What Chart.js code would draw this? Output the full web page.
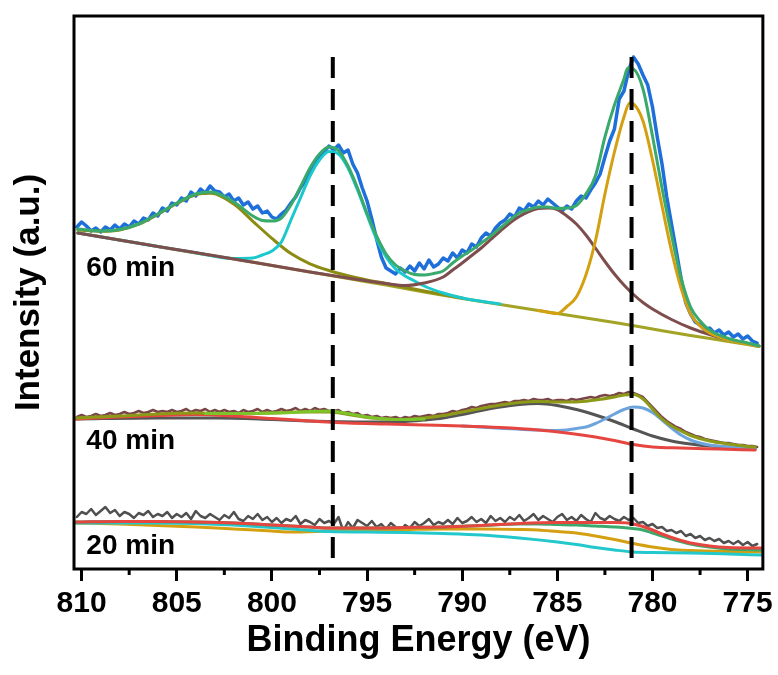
<!DOCTYPE html>
<html><head><meta charset="utf-8">
<script src="https://cdn.jsdelivr.net/npm/chart.js@4.4.1/dist/chart.umd.min.js"></script>
<style>html,body{margin:0;padding:0;background:#fff;}canvas{display:block;}</style>
</head><body>
<canvas id="c" width="778" height="675"></canvas>
<script>
// ---------- axis ----------
const xAxisMin = 774.2, xAxisMax = 810.4;
const yAxisMin = 0, yAxisMax = 553;
const minorTicks = [807.5, 802.5, 797.5, 792.5, 787.5, 782.5, 777.5];
const dashEnergies = [796.8, 781.1];
const dashTop = 512;
const spectrumLabels = ['60 min', '40 min', '20 min'];
const labelE = [809.75, 809.75, 809.75];
const labelI = [301, 128, 23];

// ---------- raw spectra (shared energy grid) ----------
const rawEnergy = [810.25,810,809.75,809.5,809.25,809,808.75,808.5,808.25,808,807.75,807.5,807.25,807,806.75,806.5,806.25,806,
805.75,805.5,805.25,805,804.75,804.5,804.25,804,803.75,803.5,803.25,803,
802.75,802.5,802.25,802,801.75,801.5,801.25,801,800.75,800.5,800.25,800,
799.75,799.5,799.25,799,798.75,798.5,798.25,798,797.75,797.5,797.25,797,
796.75,796.5,796.25,796,795.75,795.5,795.25,795,794.75,794.5,794.25,794,
793.75,793.5,793.25,793,792.75,792.5,792.25,792,791.75,791.5,791.25,791,
790.75,790.5,790.25,790,789.75,789.5,789.25,789,788.75,788.5,788.25,788,
787.75,787.5,787.25,787,786.75,786.5,786.25,786,785.75,785.5,785.25,785,
784.75,784.5,784.25,784,783.75,783.5,783.25,783,782.75,782.5,782.25,782,
781.75,781.5,781.25,781,780.75,780.5,780.25,780,779.75,779.5,779.25,779,
778.75,778.5,778.25,778,777.75,777.5,777.25,777,776.75,776.5,776.25,776,
775.75,775.5,775.25,775,774.75,774.5];

const raw60 = [342,347,343,338,341,337,342,339,344,340,345,342,348,345,351,349,356,353,
361,358,366,364,371,368,377,373,380,376,383,378,
377,372,375,368,371,364,367,360,363,356,358,352,
350,355,359,366,372,381,388,398,404,413,417,423,
419,424,416,419,405,396,381,368,350,330,312,301,
298,295,301,297,303,298,306,300,309,302,305,311,
308,316,311,319,316,325,322,331,336,333,341,346,
349,355,352,361,358,365,362,368,364,370,366,362,
358,363,360,368,373,371,379,386,395,412,428,440,
470,478,499,512,505,494,484,462,432,405,372,345,
318,291,266,255,247,244,239,241,236,239,234,237,
232,235,230,233,228,226];

const raw40 = [152,154,152,153,155,153,154,156,154,155,157,155,156,158,156,157,159,157,
158,157,159,157,158,160,157,159,158,160,157,159,
157,159,157,158,156,159,157,158,160,157,159,157,
158,160,158,159,161,158,160,158,161,159,160,158,
158,159,156,157,155,156,153,154,152,153,151,152,
151,152,150,152,151,153,152,153,154,153,155,155,
156,158,157,159,160,162,161,163,164,165,165,166,
167,166,168,168,169,168,170,169,169,170,168,169,
169,168,170,169,170,171,172,171,173,174,173,174,
176,175,177,176,174,172,167,162,157,152,148,145,
142,140,137,135,133,132,130,129,128,127,126,126,
125,124,124,123,123,122];

const raw20 = [52,57,55,60,54,58,62,56,59,53,57,55,51,56,54,58,52,55,
53,57,51,55,52,56,50,58,53,51,55,52,
49,54,51,57,50,48,53,50,55,49,52,47,
51,46,50,48,53,45,49,47,44,50,46,48,
45,52,38,47,41,49,46,43,48,42,45,40,
46,42,37,44,41,47,43,46,50,44,47,45,
49,45,51,46,48,52,47,50,46,53,48,51,
47,52,49,54,48,51,55,49,53,50,47,52,
55,49,52,48,54,50,47,56,51,49,53,50,
48,52,49,51,46,47,43,45,41,42,38,39,
36,38,33,35,31,33,29,31,28,30,26,28,
25,28,24,27,23,25];

// ---------- fitted curves, 60 min ([energy, intensity]) ----------
const bg60 = [[810.2,336],[808,329],[806,322.5],[804,316],[802,310],[800,303.5],[798,297],[796,290.5],[794,284],[792,277],[790,270.5],[788,264.5],[786,258.5],[784,252.5],[782,246.5],[780,240],[778,233.5],[776,227.5],[774.4,222.5]];
const olive60 = [[810.2,339],[809,337.7],[808,339],[807,344.8],[806,354.6],[805,365.5],[804,374.3],[803.2,375.7],[802,364.9],[801,347.7],[800,330.6],[799,315.4],[798,305.2],[797,298.5],[796,293.3],[795,289],[794,285.5],[792,278],[790,271]];
const cyan60 = [[810.2,336],[806,322.6],[804,316.3],[802,310.5],[801,311],[800.5,314],[800,318],[799.5,327],[799,349],[798.5,371],[798,393],[797.5,409],[797,417.5],[796.5,415],[796,401],[795.5,379],[795,354],[794.5,330],[794,312],[793.5,300],[793,293],[792.5,288],[792,283],[791,276],[790,271],[788,265]];
const brown60 = [[810.2,336],[806,322.6],[802,310],[798,297],[796,291],[794,285.5],[793,283.5],[792,286],[791,292],[790.5,299],[790,306],[789.5,313.5],[789,321],[788.5,329.5],[788,338],[787.5,346],[787,352.5],[786.5,357.5],[786,360.5],[785.5,361],[785,359.5],[784.5,353],[784,345],[783.5,334],[783,321],[782.5,307.5],[782,295],[781.5,284],[781,274.5],[780.5,266.5],[780,260],[779,249.5],[778,241],[777,234.5],[776,229.5],[775,225.5],[774.4,223]];
const gold60 = [[786,258.5],[785.5,256.8],[785,255.5],[784.5,262.5],[784,272],[783.5,294],[783,328],[782.5,375],[782,417],[781.5,452],[781.2,466],[781,465],[780.5,448],[780,409],[779.5,363],[779,318],[778.5,281],[778,255],[777.5,243],[777,236],[776,229],[775,225],[774.4,222.5]];
const env60 = [[810.2,340],[809,338],[808,339.5],[807,345],[806,355],[805,366],[804,375],[803.2,377],[802,367],[801,353],[800.5,348.5],[800,348],[799.5,351],[799,364],[798.5,382],[798,401],[797.5,415],[797,422],[796.5,418.5],[796,403],[795.5,381],[795,355.5],[794.5,333],[794,315],[793.5,304],[793,298],[792.5,294.5],[792,294],[791.5,295.5],[791,298],[790.5,306],[790,313],[789.5,319],[789,326],[788.5,333],[788,341],[787.5,349],[787,356],[786.5,359.5],[786,362],[785.5,362],[785,360.5],[784.5,361],[784,363.5],[783.5,375],[783,393],[782.5,432],[782,464],[781.5,490],[781.3,501],[781,500],[780.5,480],[780,433],[779.5,381],[779,334],[778.5,291],[778,262],[777.5,248],[777,239],[776,230.5],[775,226],[774.4,223]];

// ---------- fitted curves, 40 min ----------
const red40 = [[810.3,150],[808,152],[806,153.5],[804,154.5],[802,153],[800,150.5],[798,148],[796,146],[794,145],[792,144],[790,143],[788,141.5],[786,139],[784.5,136],[783,132],[782,128.5],[781,124.5],[780,122],[778.5,121],[776.5,120],[774.6,119]];
const grey40 = [[810.3,150],[806,151],[803,151],[800,149.5],[798,148],[795,147],[793,147.5],[792,149],[791,151],[790,154.5],[789,158.5],[788,162],[787,164.5],[786,165.5],[785,163.5],[784,159.5],[783,154],[782,147.5],[781,140],[780,133],[779,128],[778,125],[777,123],[775,121],[774.6,120.5]];
const lblue40 = [[790,143],[786,139],[785,138.5],[784.5,139],[784,140.5],[783.5,142],[783,145.5],[782.5,150],[782,155],[781.5,159.5],[781,162],[780.5,161],[780,156.5],[779.5,149],[779,141],[778.5,134],[778,129],[777.5,126],[777,124],[776,122],[775,120.5],[774.6,120]];
const lime40 = [[803.5,155.5],[802,155.5],[800,156],[799,156.5],[798,157.5],[797,158],[796,155.5],[795,152],[794,150],[793,149.5],[792,150]];
const env40 = [[810.3,151],[808,153],[806,155],[804,156],[802,155.5],[800,156],[798.5,157],[797,157],[796,154.5],[795,151.5],[794,150],[793,149.5],[792,151],[791,153.5],[790,157],[789,160.5],[788,164],[787,166.5],[786,167.5],[785,167],[784,167],[783,169],[782,172],[781.5,174],[781,174.5],[780.5,170],[780,160],[779.5,150],[779,143],[778.5,138],[778,133.5],[777,128],[776,125],[775,122.5],[774.6,122]];

// ---------- fitted curves, 20 min ----------
const red20 = [[810.3,47],[808,47.5],[806,47.5],[804,47],[802,46],[800,44],[798,42],[797,41],[795,41],[793,41.5],[791,42],[789,43.5],[787,45.5],[785,46.5],[783.5,46.5],[782,46.5],[781.3,46],[780.5,42.5],[780,39],[779.5,35],[779,31.5],[778.5,28.5],[778,26],[777,23],[776,21.5],[774.3,21]];
const green20 = [[810.3,47],[808,47.5],[806,47.5],[804,47],[802,46],[800,44],[798,42],[797,41],[795,41],[793,41.5],[791,42],[789,43.5],[787,45],[786,45],[785,44.5],[784,44],[783,43],[782,42],[781.3,41],[780.5,39],[780,36],[779,30],[778,25],[777,22],[776,20],[774.3,19]];
const gold20 = [[810.3,46],[808,45],[806,43.5],[804,42],[802,40],[800,38],[799,37],[797,38],[795,39],[793,39.5],[791,40],[789,40],[787,39.5],[786,39],[785,37.5],[784,36],[783,33],[782,29.5],[781,25.5],[780,22],[779,19.5],[778,18.5],[776,17.5],[774.3,17]];
const cyan20 = [[810.3,46],[808,46],[806,46],[804,45.5],[802,44],[800,41.5],[798,38.5],[797,37.5],[795,37],[793,36.5],[791,35.5],[789,34],[787,31],[785,27],[784,24.5],[783,21.5],[782,19],[781,17],[780,16.5],[778,16],[776,15],[774.3,14]];

// ---------- build ----------
const FONT = '"Liberation Sans", Arial, Helvetica, sans-serif';
const pairs = arr => arr.map(p => ({x: p[0], y: p[1]}));
const rawPts = vals => vals.map((v, i) => ({x: rawEnergy[i], y: v}));
function curve(label, data, color, width, order, smooth) {
  return {label, data, borderColor: color, backgroundColor: color, borderWidth: width,
    pointRadius: 0, fill: false, order, tension: 0,
    cubicInterpolationMode: smooth ? 'monotone' : 'default',
    borderJoinStyle: 'round', borderCapStyle: 'round'};
}
const datasets = [];
dashEnergies.forEach((e, i) => {
  const d = curve('dash' + i, [{x: e, y: dashTop}, {x: e, y: yAxisMin}], '#000', 4, 0, false);
  d.borderDash = [21, 11]; d.borderCapStyle = 'butt';
  datasets.push(d);
});
// 60 min
datasets.push(curve('env60', pairs(env60), '#3aa96c', 3, 1, true));
datasets.push(curve('gold60', pairs(gold60), '#d4a012', 3, 2, true));
datasets.push(curve('brown60', pairs(brown60), '#7e4e4e', 3, 3, true));
datasets.push(curve('cyan60', pairs(cyan60), '#1cc8cc', 3, 4, true));
datasets.push(curve('olive60', pairs(olive60), '#8c8c12', 3, 5, true));
datasets.push(curve('bg60', pairs(bg60), '#a3a326', 3, 6, true));
datasets.push(curve('raw60', rawPts(raw60), '#1f6fdb', 3.5, 7, false));
// 40 min
datasets.push(curve('lime40', pairs(lime40), '#7cc42a', 3, 0.5, true));
datasets.push(curve('env40', pairs(env40), '#8c9a18', 3, 1, true));
datasets.push(curve('red40', pairs(red40), '#e64640', 3, 3, true));
datasets.push(curve('lblue40', pairs(lblue40), '#6ea4dc', 3, 4, true));
datasets.push(curve('grey40', pairs(grey40), '#555555', 3, 5, true));
datasets.push(curve('raw40', rawPts(raw40), '#7a4545', 2.5, 8, false));
// 20 min
datasets.push(curve('red20', pairs(red20), '#e64640', 3, 1, true));
datasets.push(curve('green20', pairs(green20), '#3aa96c', 3, 2, true));
datasets.push(curve('cyan20', pairs(cyan20), '#22c8cc', 3, 3, true));
datasets.push(curve('gold20', pairs(gold20), '#d4a012', 3, 4, true));
datasets.push(curve('raw20', rawPts(raw20), '#505050', 2.5, 8, false));

const deco = {
  id: 'deco',
  afterDatasetsDraw(chart) {
    const {ctx, chartArea: a, scales: {x, y}} = chart;
    ctx.save();
    ctx.strokeStyle = '#000';
    ctx.lineWidth = 3;
    minorTicks.forEach(v => {
      const px = x.getPixelForValue(v);
      ctx.beginPath(); ctx.moveTo(px, a.bottom); ctx.lineTo(px, a.bottom + 6); ctx.stroke();
    });
    ctx.strokeRect(a.left, a.top, a.right - a.left, a.bottom - a.top);
    ctx.fillStyle = '#000';
    ctx.font = 'bold 28px ' + FONT;
    ctx.textBaseline = 'middle';
    ctx.textAlign = 'left';
    spectrumLabels.forEach((t, i) => ctx.fillText(t, x.getPixelForValue(labelE[i]), y.getPixelForValue(labelI[i])));
    ctx.restore();
  }
};

new Chart(document.getElementById('c'), {
  type: 'line',
  data: {datasets},
  plugins: [deco],
  options: {
    responsive: false, animation: false, devicePixelRatio: 1,
    layout: {padding: {left: 0, right: 15, top: 16, bottom: 0}},
    plugins: {legend: {display: false}, tooltip: {enabled: false}},
    scales: {
      x: {
        type: 'linear', position: 'bottom', reverse: true, min: xAxisMin, max: xAxisMax,
        afterFit: s => { s.height = 106; },
        grid: {display: true, drawOnChartArea: false, drawTicks: true, tickLength: 12, tickWidth: 3, tickColor: '#000'},
        border: {display: false},
        ticks: {stepSize: 5, includeBounds: false, color: '#000', padding: 5, maxRotation: 0,
                font: {family: FONT, size: 30, weight: 'bold'}},
        title: {display: true, text: 'Binding Energy (eV)', color: '#000',
                font: {family: FONT, size: 36, weight: 'bold'}, padding: {top: 0, bottom: 12}}
      },
      y: {
        type: 'linear', position: 'left', min: yAxisMin, max: yAxisMax,
        afterFit: s => { s.width = 74; },
        grid: {display: false}, border: {display: false},
        ticks: {display: false},
        title: {display: true, text: 'Intensity (a.u.)', color: '#000',
                font: {family: FONT, size: 35, weight: 'bold'}, padding: {top: 8, bottom: 0}}
      }
    }
  }
});
</script>
</body></html>
